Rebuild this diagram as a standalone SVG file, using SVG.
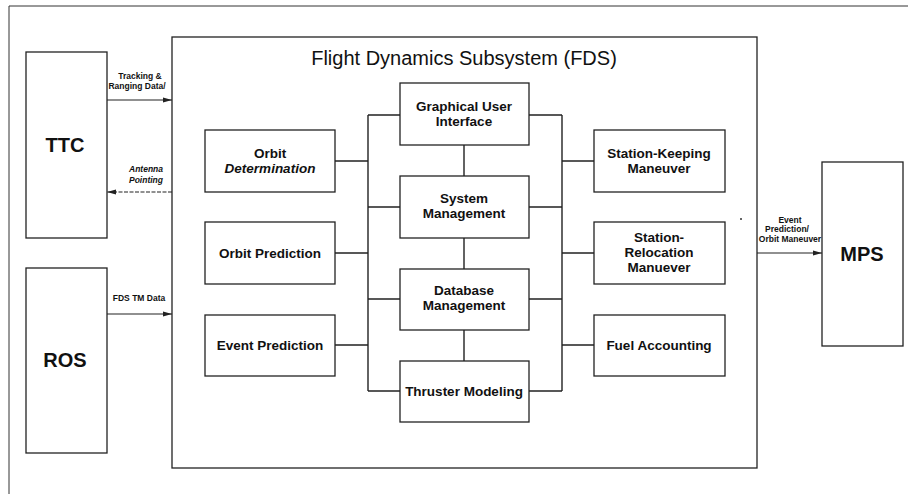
<svg xmlns="http://www.w3.org/2000/svg" width="908" height="494" viewBox="0 0 908 494">
<style>
.box{fill:#fff;stroke:#222;stroke-width:1.3}
.ln{fill:none;stroke:#222;stroke-width:1.4}
.t{font-family:"Liberation Sans",Arial,sans-serif;font-weight:bold;font-size:13.5px;fill:#111;text-anchor:middle}
.big{font-family:"Liberation Sans",Arial,sans-serif;font-weight:bold;font-size:20px;fill:#111;text-anchor:middle}
.s{font-family:"Liberation Sans",Arial,sans-serif;font-weight:bold;font-size:8.5px;fill:#111;text-anchor:middle}
.title{font-family:"Liberation Sans",Arial,sans-serif;font-size:20px;fill:#111;text-anchor:middle}
</style>
<defs>
<marker id="ah" markerWidth="9" markerHeight="6" refX="9" refY="3" orient="auto" markerUnits="userSpaceOnUse">
<path d="M0,0.5 L9,3 L0,5.5 Z" fill="#222"/>
</marker>
</defs>
<rect width="908" height="494" fill="#fff"/>
<path d="M9,494 V6 H908" fill="none" stroke="#333" stroke-width="1"/>

<g id="fds"><rect class="box" x="172" y="37" width="585" height="431"/>
<text class="title" x="464" y="65">Flight Dynamics Subsystem (FDS)</text></g>

<g id="ttc"><rect class="box" x="26" y="52" width="81" height="186"/><text class="big" x="65" y="152">TTC</text></g>
<g id="ros"><rect class="box" x="26" y="268" width="81" height="185"/><text class="big" x="65" y="367">ROS</text></g>
<g id="mps"><rect class="box" x="822" y="162" width="81" height="184"/><text class="big" x="862" y="261">MPS</text></g>

<g id="connectors">
<path class="ln" d="M368,115 V391"/>
<path class="ln" d="M562,115 V391"/>
<path class="ln" d="M335,161 H368 M335,253 H368 M335,345 H368"/>
<path class="ln" d="M368,115 H400 M368,207 H400 M368,299 H400 M368,391 H400"/>
<path class="ln" d="M529,115 H562 M529,207 H562 M529,299 H562 M529,391 H562"/>
<path class="ln" d="M562,161 H594 M562,253 H594 M562,345 H594"/>
<path class="ln" d="M464,145 V176 M464,238 V269 M464,330 V361"/>
<path d="M107,100 H172" stroke="#222" stroke-width="1.2" marker-end="url(#ah)"/>
<path d="M172,192 H107" stroke="#222" stroke-width="1.2" stroke-dasharray="4 1.5" marker-end="url(#ah)"/>
<path d="M107,314 H172" stroke="#222" stroke-width="1.2" marker-end="url(#ah)"/>
<path d="M757,253 H822" stroke="#222" stroke-width="1.2" marker-end="url(#ah)"/>
<text class="s" x="140" y="79">Tracking &amp;</text>
<text class="s" x="137" y="89">Ranging Data/</text>
<text class="s" x="146" y="172" font-style="italic">Antenna</text>
<text class="s" x="146" y="183" font-style="italic">Pointing</text>
<text class="s" x="139" y="301">FDS TM Data</text>
<text class="s" x="790" y="223">Event</text>
<text class="s" x="787" y="232">Prediction/</text>
<text class="s" x="790" y="242">Orbit Maneuver</text>
</g>

<g id="od"><rect class="box" x="205" y="130" width="130" height="62"/>
<text class="t" x="270" y="158">Orbit</text><text class="t" x="270" y="173" font-style="italic">Determination</text></g>
<g id="op"><rect class="box" x="205" y="222" width="130" height="62"/><text class="t" x="270" y="258">Orbit Prediction</text></g>
<g id="ep"><rect class="box" x="205" y="315" width="130" height="61"/><text class="t" x="270" y="350">Event Prediction</text></g>

<g id="gui"><rect class="box" x="400" y="83" width="129" height="62"/>
<text class="t" x="464" y="111">Graphical User</text><text class="t" x="464" y="126">Interface</text></g>
<g id="sm"><rect class="box" x="400" y="176" width="129" height="62"/>
<text class="t" x="464" y="203">System</text><text class="t" x="464" y="218">Management</text></g>
<g id="dm"><rect class="box" x="400" y="269" width="129" height="61"/>
<text class="t" x="464" y="295">Database</text><text class="t" x="464" y="310">Management</text></g>
<g id="tm"><rect class="box" x="400" y="361" width="129" height="61"/><text class="t" x="464" y="396">Thruster Modeling</text></g>

<g id="sk"><rect class="box" x="594" y="130" width="131" height="62"/>
<text class="t" x="659" y="158">Station-Keeping</text><text class="t" x="659" y="173">Maneuver</text></g>
<g id="sr"><rect class="box" x="594" y="222" width="131" height="62"/>
<text class="t" x="659" y="242">Station-</text><text class="t" x="659" y="257">Relocation</text><text class="t" x="659" y="272">Manuever</text></g>
<g id="fa"><rect class="box" x="594" y="315" width="131" height="61"/><text class="t" x="659" y="350">Fuel Accounting</text></g>

<circle cx="741" cy="219" r="1" fill="#333"/>
</svg>
